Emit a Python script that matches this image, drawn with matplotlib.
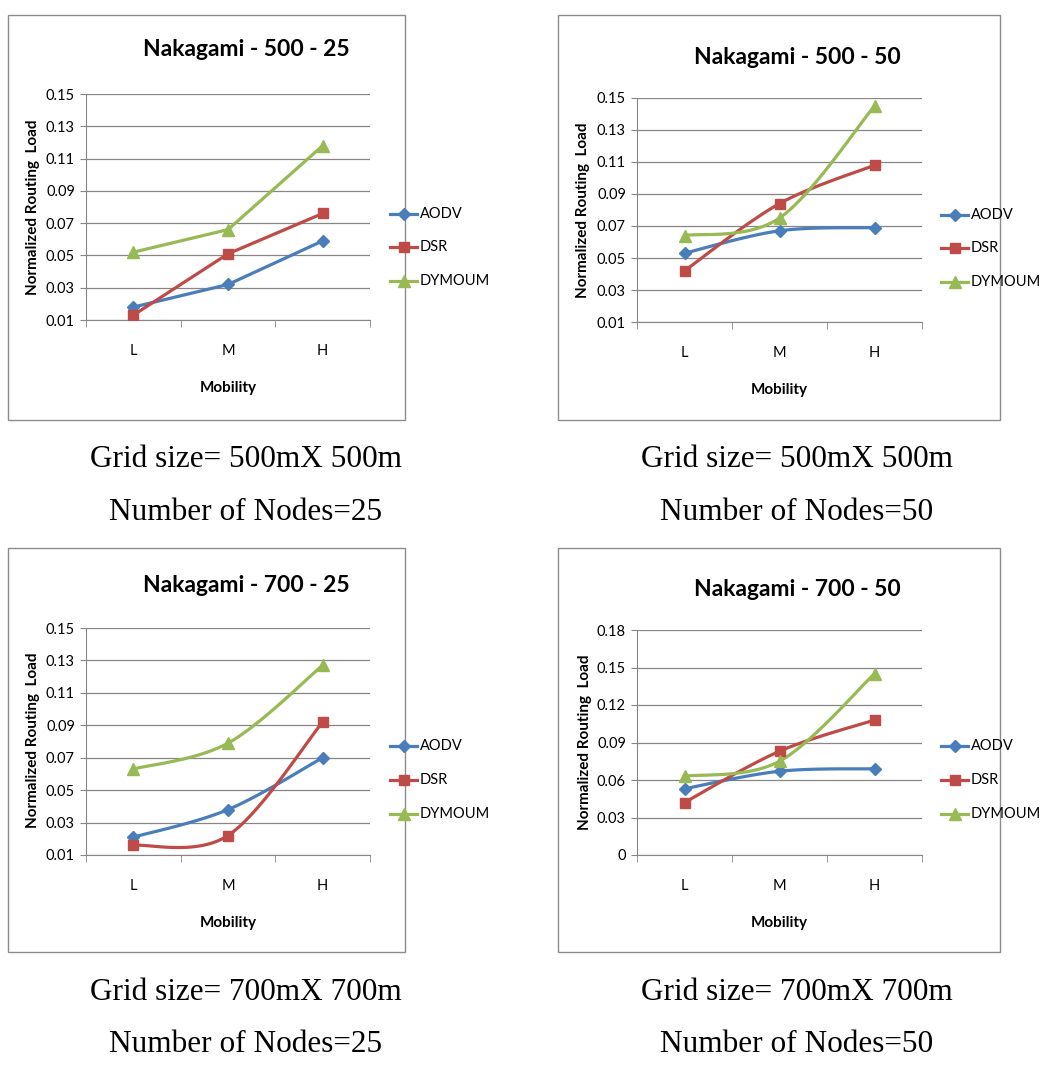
import numpy as np
import matplotlib
matplotlib.use("Agg")
import matplotlib.pyplot as plt
from matplotlib import font_manager
from matplotlib.lines import Line2D
from matplotlib.patches import Rectangle

# dados
categorias = ["L", "M", "H"]
protocolos = ["AODV", "DSR", "DYMOUM"]

titulos = ["Nakagami - 500 - 25", "Nakagami - 500 - 50",
           "Nakagami - 700 - 25", "Nakagami - 700 - 50"]
legenda_grid = ["Grid size= 500mX 500m", "Grid size= 500mX 500m",
                "Grid size= 700mX 700m", "Grid size= 700mX 700m"]
legenda_nos = ["Number of Nodes=25", "Number of Nodes=50",
               "Number of Nodes=25", "Number of Nodes=50"]

aodv_500_25 = [0.018, 0.032, 0.059]
dsr_500_25 = [0.013, 0.051, 0.076]
dymoum_500_25 = [0.052, 0.066, 0.118]

aodv_500_50 = [0.053, 0.067, 0.069]
dsr_500_50 = [0.042, 0.084, 0.108]
dymoum_500_50 = [0.064, 0.075, 0.145]

aodv_700_25 = [0.021, 0.038, 0.070]
dsr_700_25 = [0.016, 0.022, 0.092]
dymoum_700_25 = [0.063, 0.079, 0.127]

aodv_700_50 = [0.053, 0.067, 0.069]
dsr_700_50 = [0.042, 0.083, 0.108]
dymoum_700_50 = [0.063, 0.075, 0.145]

yticks_a = [0.01, 0.03, 0.05, 0.07, 0.09, 0.11, 0.13, 0.15]
yticks_b = [0, 0.03, 0.06, 0.09, 0.12, 0.15, 0.18]
ylabels_a = ["0.01", "0.03", "0.05", "0.07", "0.09", "0.11", "0.13", "0.15"]
ylabels_b = ["0", "0.03", "0.06", "0.09", "0.12", "0.15", "0.18"]

cores = ["#4a7ebb", "#be4b48", "#98b954"]
marcadores = ["D", "s", "^"]
tam_marc = [6.5, 7.5, 8]

W, H = 1045, 1068
fig = plt.figure(figsize=(W / 100, H / 100), dpi=100)

# fonte estreita parecida com calibri, se existir
nomes = {f.name for f in font_manager.fontManager.ttflist}
sans = "Lato"
for cand in ["Liberation Sans Narrow", "DejaVu Sans Condensed"]:
    if cand in nomes:
        sans = cand
        break
narrow = [sans, "DejaVu Sans"]
serif = ["Liberation Serif", "DejaVu Serif"]

def fx(px):
    return px / W

def fy(py):
    return 1 - py / H

def suave(x, y, n=30):
    # curva tipo excel (catmull-rom) que passa pelos pontos
    x = np.asarray(x, float)
    y = np.asarray(y, float)
    px = np.concatenate([[x[0]], x, [x[-1]]])
    py = np.concatenate([[y[0]], y, [y[-1]]])
    xs, ys = [], []
    for i in range(1, len(px) - 2):
        p0 = np.array([px[i - 1], py[i - 1]])
        p1 = np.array([px[i], py[i]])
        p2 = np.array([px[i + 1], py[i + 1]])
        p3 = np.array([px[i + 2], py[i + 2]])
        c1 = p1 + (p2 - p0) / 6
        c2 = p2 - (p3 - p1) / 6
        t = np.linspace(0, 1, n)[:, None]
        b = (1 - t) ** 3 * p1 + 3 * (1 - t) ** 2 * t * c1 + 3 * (1 - t) * t ** 2 * c2 + t ** 3 * p2
        xs.append(b[:, 0])
        ys.append(b[:, 1])
    return np.concatenate(xs), np.concatenate(ys)

# caixa, eixo, titulo, ylabel, legenda, caption (em pixels)
paineis = [
    dict(caixa=(8, 15, 405, 420), eixo=(86, 94, 370, 320), tit=(246, 50),
         yl=(33, 207), leg_y=(214, 247, 281), leg_x=390, cap=(246, 460, 513),
         dados=[aodv_500_25, dsr_500_25, dymoum_500_25], suave=False,
         yt=yticks_a, ytl=ylabels_a),
    dict(caixa=(558, 15, 1000, 420), eixo=(637, 98, 922, 322), tit=(797, 57),
         yl=(583, 210), leg_y=(215, 248, 282), leg_x=941, cap=(797, 460, 513),
         dados=[aodv_500_50, dsr_500_50, dymoum_500_50], suave=True,
         yt=yticks_a, ytl=ylabels_a),
    dict(caixa=(8, 548, 405, 952), eixo=(86, 628, 370, 855), tit=(246, 585),
         yl=(33, 740), leg_y=(746, 780, 814), leg_x=390, cap=(246, 992, 1045),
         dados=[aodv_700_25, dsr_700_25, dymoum_700_25], suave=True,
         yt=yticks_a, ytl=ylabels_a),
    dict(caixa=(558, 548, 1000, 952), eixo=(637, 630, 922, 855), tit=(797, 590),
         yl=(585, 742), leg_y=(746, 780, 814), leg_x=941, cap=(797, 992, 1045),
         dados=[aodv_700_50, dsr_700_50, dymoum_700_50], suave=True,
         yt=yticks_b, ytl=ylabels_b),
]

cinza = "#868686"
xpos = np.arange(len(categorias))

for k, p in enumerate(paineis):
    x0, y0, x1, y1 = p["caixa"]
    fig.patches.append(Rectangle((fx(x0), fy(y1)), fx(x1 - x0), (y1 - y0) / H,
                                 transform=fig.transFigure, fill=False,
                                 edgecolor="#8c8c8c", linewidth=1.0))
    l, t, r, b = p["eixo"]
    ax = fig.add_axes([fx(l), fy(b), fx(r - l), (b - t) / H])
    for i, serie in enumerate(p["dados"]):
        if p["suave"]:
            sx, sy = suave(xpos, serie)
        else:
            sx, sy = xpos, serie
        ax.plot(sx, sy, color=cores[i], linewidth=2.3, zorder=3, solid_capstyle="round")
        ax.plot(xpos, serie, linestyle="none", marker=marcadores[i],
                markersize=tam_marc[i], color=cores[i], zorder=4)
    ax.set_xlim(-0.5, 2.5)
    ax.set_ylim(p["yt"][0], p["yt"][-1])
    ax.set_yticks(p["yt"])
    ax.set_yticklabels(p["ytl"], family=narrow, fontsize=10.5)
    ax.set_xticks(xpos)
    ax.set_xticklabels(categorias, family=narrow, fontsize=10.5)
    ax.set_xticks([-0.5, 0.5, 1.5, 2.5], minor=True)
    ax.tick_params(axis="x", which="major", length=0, pad=17)
    ax.tick_params(axis="x", which="minor", length=5, color=cinza, direction="out")
    ax.tick_params(axis="y", length=4, color=cinza, pad=4)
    ax.grid(axis="y", color=cinza, linewidth=0.9)
    ax.set_axisbelow(True)
    for s in ["top", "right"]:
        ax.spines[s].set_visible(False)
    ax.spines["left"].set_color(cinza)
    ax.spines["bottom"].set_color(cinza)
    ax.set_xlabel("Mobility", family=narrow, fontsize=11, fontweight="bold", labelpad=17)

    fig.text(fx(p["tit"][0]), fy(p["tit"][1]), titulos[k], family=narrow,
             fontsize=16.5, fontweight="bold", ha="center", va="center")
    fig.text(fx(p["yl"][0]), fy(p["yl"][1]), "Normalized Routing  Load", family=narrow,
             fontsize=11, fontweight="bold", rotation=90, ha="center", va="center")

    # legenda manual
    for i, nome in enumerate(protocolos):
        yy = fy(p["leg_y"][i])
        fig.add_artist(Line2D([fx(p["leg_x"]), fx(p["leg_x"] + 27)], [yy, yy],
                              color=cores[i], linewidth=2.3, transform=fig.transFigure))
        fig.add_artist(Line2D([fx(p["leg_x"] + 13.5)], [yy], marker=marcadores[i],
                              markersize=tam_marc[i], color=cores[i],
                              transform=fig.transFigure))
        fig.text(fx(p["leg_x"] + 30), yy, nome, family=narrow, fontsize=10.5,
                 ha="left", va="center")

    cx, c1, c2 = p["cap"]
    fig.text(fx(cx), fy(c1), legenda_grid[k], family=serif, fontsize=22.5,
             ha="center", va="center")
    fig.text(fx(cx), fy(c2), legenda_nos[k], family=serif, fontsize=22.5,
             ha="center", va="center")

fig.savefig("out.png", dpi=100)
